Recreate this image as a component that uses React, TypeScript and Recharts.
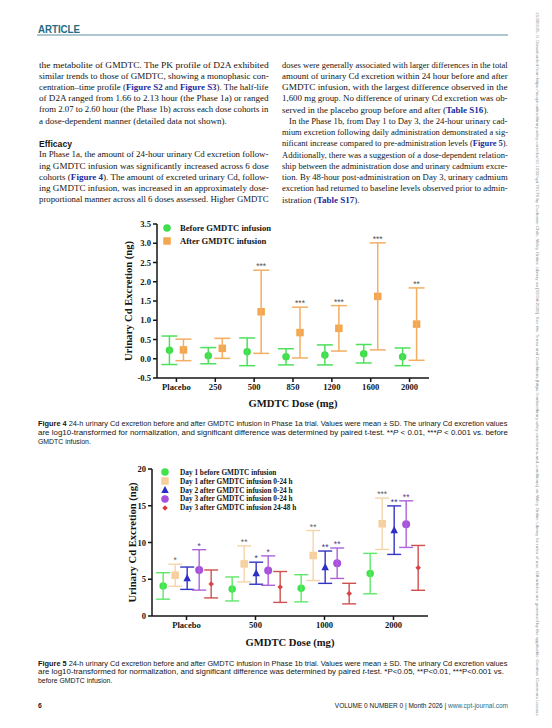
import React, { useLayoutEffect, useRef, useState } from 'react';
import { BarChart, Bar, XAxis, YAxis, ErrorBar, LabelList, Legend, Label } from 'recharts';

// ---- Figure 4 (Phase 1a) ----
const doses4 = ['Placebo', '250', '500', '850', '1200', '1600', '2000'];
const before4 = [0.22, 0.08, 0.18, 0.05, 0.1, 0.13, 0.05];
const beforeSd4 = [0.37, 0.21, 0.36, 0.21, 0.26, 0.24, 0.23];
const after4 = [0.23, 0.27, 1.22, 0.68, 0.79, 1.62, 0.9];
const afterSd4 = [0.28, 0.26, 1.08, 0.66, 0.59, 1.39, 0.94];
const afterSig4 = ['', '', '***', '***', '***', '***', '**'];
const ticks4 = [-0.5, 0, 0.5, 1, 1.5, 2, 2.5, 3, 3.5];

// ---- Figure 5 (Phase 1b) ----
const doses5 = ['Placebo', '500', '1000', '2000'];
const d1Before = [4.09, 3.68, 3.77, 5.77];
const d1BeforeSd = [1.8, 1.63, 1.85, 2.75];
const d1After = [5.55, 7.09, 8.23, 12.55];
const d1AfterSd = [1.5, 2.45, 3.4, 3.5];
const d1AfterSig = ['*', '**', '**', '***'];
const d2After = [5.14, 5.82, 6.64, 11.68];
const d2AfterSd = [1.52, 1.5, 2.2, 3.3];
const d2AfterSig = ['', '*', '**', '**'];
const d3After = [6.27, 6.18, 7.18, 12.5];
const d3AfterSd = [2.75, 2.0, 2.07, 3.17];
const d3AfterSig = ['*', '*', '**', '**'];
const d3Late = [4.36, 3.95, 3.05, 6.55];
const d3LateSd = [1.9, 2.1, 1.4, 3.05];
const ticks5 = [0, 5, 10, 15, 20];

const rows4 = doses4.map((dose, i) => ({
  dose,
  before: before4[i],
  beforeSd: beforeSd4[i],
  after: after4[i],
  afterSd: afterSd4[i],
  afterSig: afterSig4[i],
}));

const rows5 = doses5.map((dose, i) => ({
  dose,
  g: d1Before[i], gSd: d1BeforeSd[i],
  o: d1After[i], oSd: d1AfterSd[i], oSig: d1AfterSig[i],
  b: d2After[i], bSd: d2AfterSd[i], bSig: d2AfterSig[i],
  p: d3After[i], pSd: d3AfterSd[i], pSig: d3AfterSig[i],
  r: d3Late[i], rSd: d3LateSd[i],
}));

const SERIF = "'Liberation Serif', 'Times New Roman', serif";
const SANS = "'Liberation Sans', Arial, sans-serif";
const INK = '#151515';
const LINK = '#1d2b9e';
const TEAL = '#1f6c84';

const Marker = ({ kind, cx, cy, color, s }: any) => {
  if (kind === 'square') return <rect x={cx - s / 2} y={cy - s / 2} width={s} height={s} fill={color} />;
  if (kind === 'triangle')
    return <polygon points={`${cx},${cy - s * 0.55} ${cx + s / 2},${cy + s * 0.4} ${cx - s / 2},${cy + s * 0.4}`} fill={color} />;
  if (kind === 'diamond')
    return <polygon points={`${cx},${cy - s / 2} ${cx + s / 2},${cy} ${cx},${cy + s / 2} ${cx - s / 2},${cy}`} fill={color} />;
  return <circle cx={cx} cy={cy} r={s / 2} fill={color} />;
};

const markerShape = (kind: string, color: string, s: number) => (p: any) =>
  <Marker kind={kind} cx={p.x + p.width / 2} cy={p.y} color={color} s={s} />;

const series4 = [
  { key: 'before', name: 'Before GMDTC infusion', kind: 'circle', color: '#3fdf4b', s: 7.5 },
  { key: 'after', name: 'After GMDTC infusion', kind: 'square', color: '#f4a64e', s: 7.5 },
];

const series5 = [
  { key: 'g', name: 'Day 1 before GMDTC infusion', kind: 'circle', color: '#3fe34a', bar: '#5ee868', s: 7.5, sig: '' },
  { key: 'o', name: 'Day 1 after GMDTC infusion 0-24 h', kind: 'square', color: '#f7cf9c', bar: '#f5d4ab', s: 7.5, sig: '#666' },
  { key: 'b', name: 'Day 2 after GMDTC infusion 0-24 h', kind: 'triangle', color: '#2b2bc9', bar: '#3434c4', s: 7.5, sig: '#3a3a8c' },
  { key: 'p', name: 'Day 3 after GMDTC infusion 0-24 h', kind: 'circle', color: '#a650dc', bar: '#ac62dc', s: 8, sig: '#6b3a88' },
  { key: 'r', name: 'Day 3 after GMDTC infusion 24-48 h', kind: 'diamond', color: '#dc3b3b', bar: '#cf5050', s: 5.5, sig: '' },
];

const LegendBox = ({ items, rowH, fontSize, gap }: any) => (
  <div>
    {items.map((it: any) => (
      <div key={it.key} style={{ display: 'flex', alignItems: 'center', height: rowH }}>
        <svg width={10} height={10} style={{ flex: 'none' }}>
          <Marker kind={it.kind} cx={5} cy={5} color={it.color} s={Math.min(it.s, 7.5)} />
        </svg>
        <span style={{ marginLeft: gap, fontFamily: SERIF, fontWeight: 700, fontSize, color: INK, whiteSpace: 'nowrap' }}>
          {it.name}
        </span>
      </div>
    ))}
  </div>
);

const axisLine = { stroke: INK, strokeWidth: 1.5 };
const tickFont = { fontFamily: SERIF, fontWeight: 700, fontSize: 8.6, fill: INK };

const Fig4 = () => (
  <BarChart width={340} height={200} data={rows4} margin={{ top: 9, right: 11, left: 0, bottom: 0 }} barCategoryGap="14%" barGap={0}>
    <XAxis dataKey="dose" height={37} interval={0} axisLine={axisLine} tickLine={axisLine} tickSize={4} tick={tickFont}>
      <Label value="GMDTC Dose (mg)" position="center" dy={7} fontFamily={SERIF} fontWeight={700} fontSize={10.6} fill={INK} />
    </XAxis>
    <YAxis
      width={57}
      domain={[-0.5, 3.5]}
      ticks={ticks4}
      allowDataOverflow
      interval={0}
      tickFormatter={(v: number) => v.toFixed(1)}
      axisLine={axisLine}
      tickLine={axisLine}
      tickSize={4}
      tick={tickFont}
    >
      <Label value="Urinary Cd Excretion (ng)" angle={-90} position="center" fontFamily={SERIF} fontWeight={700} fontSize={10.6} fill={INK} />
    </YAxis>
    <Bar dataKey="before" stackId="before" fill="none" isAnimationActive={false} shape={markerShape('circle', '#3fdf4b', 7.5)}>
      <ErrorBar dataKey="beforeSd" width={8} stroke="#4ee05a" strokeWidth={1.5} />
    </Bar>
    <Bar dataKey="after" stackId="after" fill="none" isAnimationActive={false} shape={markerShape('square', '#f4a64e', 7.5)}>
      <ErrorBar dataKey="afterSd" width={8} stroke="#f3ae62" strokeWidth={1.5} />
    </Bar>
    <Bar dataKey="afterSd" stackId="after" fill="none" isAnimationActive={false}>
      <LabelList dataKey="afterSig" position="top" offset={1} fill="#555" fontSize={8.5} fontFamily={SANS} />
    </Bar>
    <Legend
      layout="vertical"
      align="center"
      verticalAlign="middle"
      wrapperStyle={{ left: 62, top: 6.5, width: 'auto' }}
      content={() => <LegendBox items={series4} rowH={13} fontSize={8.6} gap={8} />}
    />
  </BarChart>
);

const Fig5 = () => (
  <BarChart width={380} height={195} data={rows5} margin={{ top: 9, right: 12, left: 0, bottom: 0 }} barCategoryGap="7.5%" barGap={0}>
    <XAxis dataKey="dose" height={39} interval={0} axisLine={axisLine} tickLine={axisLine} tickSize={4} tick={tickFont}>
      <Label value="GMDTC Dose (mg)" position="center" dy={7} fontFamily={SERIF} fontWeight={700} fontSize={10.6} fill={INK} />
    </XAxis>
    <YAxis
      width={92}
      domain={[0, 20]}
      ticks={ticks5}
      allowDataOverflow
      interval={0}
      axisLine={axisLine}
      tickLine={axisLine}
      tickSize={4}
      tick={tickFont}
    >
      <Label value="Urinary Cd Excretion (ng)" angle={-90} position="center" dx={26} fontFamily={SERIF} fontWeight={700} fontSize={10.6} fill={INK} />
    </YAxis>
    {series5.flatMap((s) => {
      const out = [
        <Bar key={s.key} dataKey={s.key} stackId={s.key} fill="none" isAnimationActive={false} shape={markerShape(s.kind, s.color, s.s)}>
          <ErrorBar dataKey={`${s.key}Sd`} width={7} stroke={s.bar} strokeWidth={1.4} />
        </Bar>,
      ];
      if (s.sig)
        out.push(
          <Bar key={`${s.key}-sd`} dataKey={`${s.key}Sd`} stackId={s.key} fill="none" isAnimationActive={false}>
            <LabelList dataKey={`${s.key}Sig`} position="top" offset={1} fill={s.sig} fontSize={8.5} fontFamily={SANS} />
          </Bar>
        );
      return out;
    })}
    <Legend
      layout="vertical"
      align="center"
      verticalAlign="middle"
      wrapperStyle={{ left: 100, top: 7.9, width: 'auto' }}
      content={() => <LegendBox items={series5} rowH={8.85} fontSize={7.3} gap={10} />}
    />
  </BarChart>
);

const B = ({ children }: any) => (
  <tspan fill={LINK} fontWeight={700}>{children}</tspan>
);

// a justified line: measured once, then scaled horizontally to fill the column
const FitText = ({ x, y, w, size, family, children }: any) => {
  const ref = useRef<SVGTextElement>(null);
  const [k, setK] = useState(1);
  useLayoutEffect(() => {
    if (!w || !ref.current) return;
    const len = ref.current.getComputedTextLength();
    if (len > 0) setK(w / len);
  }, [w]);
  return (
    <text ref={ref} transform={`translate(${x},${y}) scale(${k},1)`} fontFamily={family} fontSize={size} fill={INK}>
      {children}
    </text>
  );
};

const Body = ({ x, y, w, children }: any) => (
  <FitText x={x} y={y + 2.6} w={w} size={9} family={SERIF}>{children}</FitText>
);

const Cap = ({ y, w, children }: any) => (
  <FitText x={38} y={y + 2.2} w={w} size={6.9} family={SANS}>{children}</FitText>
);

const LX = 39;
const LW = 230;
const RX = 282;
const RW = 226;
const rY = (i: number) => 65 + i * 11.25;

const PageText = () => (
  <svg width={552} height={728} style={{ position: 'absolute', left: 0, top: 0 }}>
    <text x={38} y={32.6} fontFamily={"'Liberation Sans Narrow', 'Liberation Sans', Arial"} fontWeight={700} fontSize={10.5} fill={TEAL} textLength={42} lengthAdjust="spacingAndGlyphs">
      ARTICLE
    </text>
    <line x1={37} x2={508} y1={35} y2={35} stroke="#5a8fa0" strokeWidth={1} />

    <Body x={LX} y={65} w={LW}>the metabolite of GMDTC. The PK profile of D2A exhibited</Body>
    <Body x={LX} y={76.2} w={LW}>similar trends to those of GMDTC, showing a monophasic con-</Body>
    <Body x={LX} y={87.4} w={LW}>centration–time profile (<B>Figure S2</B> and <B>Figure S3</B>). The half-life</Body>
    <Body x={LX} y={98.6} w={LW}>of D2A ranged from 1.66 to 2.13 hour (the Phase 1a) or ranged</Body>
    <Body x={LX} y={109.8} w={LW}>from 2.07 to 2.60 hour (the Phase 1b) across each dose cohorts in</Body>
    <Body x={LX} y={121}>a dose-dependent manner (detailed data not shown).</Body>
    <text x={LX} y={146.8} fontFamily={SANS} fontWeight={700} fontSize={8.6} fill={INK}>Efficacy</text>
    <Body x={LX} y={154.7} w={LW}>In Phase 1a, the amount of 24-hour urinary Cd excretion follow-</Body>
    <Body x={LX} y={165.9} w={LW}>ing GMDTC infusion was significantly increased across 6 dose</Body>
    <Body x={LX} y={177.1} w={LW}>cohorts (<B>Figure 4</B>). The amount of excreted urinary Cd, follow-</Body>
    <Body x={LX} y={188.3} w={LW}>ing GMDTC infusion, was increased in an approximately dose-</Body>
    <Body x={LX} y={199.5} w={LW}>proportional manner across all 6 doses assessed. Higher GMDTC</Body>

    <Body x={RX} y={rY(0)} w={RW}>doses were generally associated with larger differences in the total</Body>
    <Body x={RX} y={rY(1)} w={RW}>amount of urinary Cd excretion within 24 hour before and after</Body>
    <Body x={RX} y={rY(2)} w={RW}>GMDTC infusion, with the largest difference observed in the</Body>
    <Body x={RX} y={rY(3)} w={RW}>1,600 mg group. No difference of urinary Cd excretion was ob-</Body>
    <Body x={RX} y={rY(4)}>served in the placebo group before and after (<B>Table S16</B>).</Body>
    <Body x={RX + 7} y={rY(5)} w={RW - 7}>In the Phase 1b, from Day 1 to Day 3, the 24-hour urinary cad-</Body>
    <Body x={RX} y={rY(6)} w={RW}>mium excretion following daily administration demonstrated a sig-</Body>
    <Body x={RX} y={rY(7)} w={RW}>nificant increase compared to pre-administration levels (<B>Figure 5</B>).</Body>
    <Body x={RX} y={rY(8)} w={RW}>Additionally, there was a suggestion of a dose-dependent relation-</Body>
    <Body x={RX} y={rY(9)} w={RW}>ship between the administration dose and urinary cadmium excre-</Body>
    <Body x={RX} y={rY(10)} w={RW}>tion. By 48-hour post-administration on Day 3, urinary cadmium</Body>
    <Body x={RX} y={rY(11)} w={RW}>excretion had returned to baseline levels observed prior to admin-</Body>
    <Body x={RX} y={rY(12)}>istration (<B>Table S17</B>).</Body>

    <Cap y={424} w={470}>
      <tspan fontWeight={700}>Figure 4</tspan>  24-h urinary Cd excretion before and after GMDTC infusion in Phase 1a trial. Values were mean ± SD. The urinary Cd excretion values
    </Cap>
    <Cap y={433} w={470}>
      are log10-transformed for normalization, and significant difference was determined by paired t-test. **<tspan fontStyle="italic">P</tspan> {'<'} 0.01, ***<tspan fontStyle="italic">P</tspan> {'<'} 0.001 vs. before
    </Cap>
    <Cap y={442}>GMDTC infusion.</Cap>

    <Cap y={663.5} w={470}>
      <tspan fontWeight={700}>Figure 5</tspan>  24-h urinary Cd excretion before and after GMDTC infusion in Phase 1b trial. Values were mean ± SD. The urinary Cd excretion values
    </Cap>
    <Cap y={672.2} w={466}>
      are log10-transformed for normalization, and significant difference was determined by paired <tspan fontStyle="italic">t</tspan>-test. *P{'<'}0.05, **P{'<'}0.01, ***P{'<'}0.001 vs.
    </Cap>
    <Cap y={680.9}>before GMDTC infusion.</Cap>

    <text x={38} y={707.5} fontFamily={SANS} fontWeight={700} fontSize={6.8} fill={INK}>6</text>
    <text x={508} y={707.5} textAnchor="end" fontFamily={SANS} fontSize={6.5} fill={INK}>
      VOLUME 0 NUMBER 0 | Month 2026 | <tspan fill={TEAL}>www.cpt-journal.com</tspan>
    </text>

    <text
      transform="translate(535.5,12) rotate(90)"
      x={0}
      y={0}
      fontFamily={SANS}
      fontSize={4.2}
      fill="#8a8a8a"
      textLength={704}
      lengthAdjust="spacingAndGlyphs"
    >
      15326535, 0, Downloaded from https://ascpt.onlinelibrary.wiley.com/doi/10.1002/cpt.70179 by Cochrane Chile, Wiley Online Library on [03/04/2026]. See the Terms and Conditions (https://onlinelibrary.wiley.com/terms-and-conditions) on Wiley Online Library for rules of use; OA articles are governed by the applicable Creative Commons License
    </text>
  </svg>
);

export default function App() {
  return (
    <div style={{ position: 'absolute', left: 0, top: 0, width: 552, height: 728, background: '#fff', overflow: 'hidden' }}>
      <PageText />
      <div style={{ position: 'absolute', left: 100, top: 215 }}>
        <Fig4 />
      </div>
      <div style={{ position: 'absolute', left: 60, top: 460 }}>
        <Fig5 />
      </div>
    </div>
  );
}
